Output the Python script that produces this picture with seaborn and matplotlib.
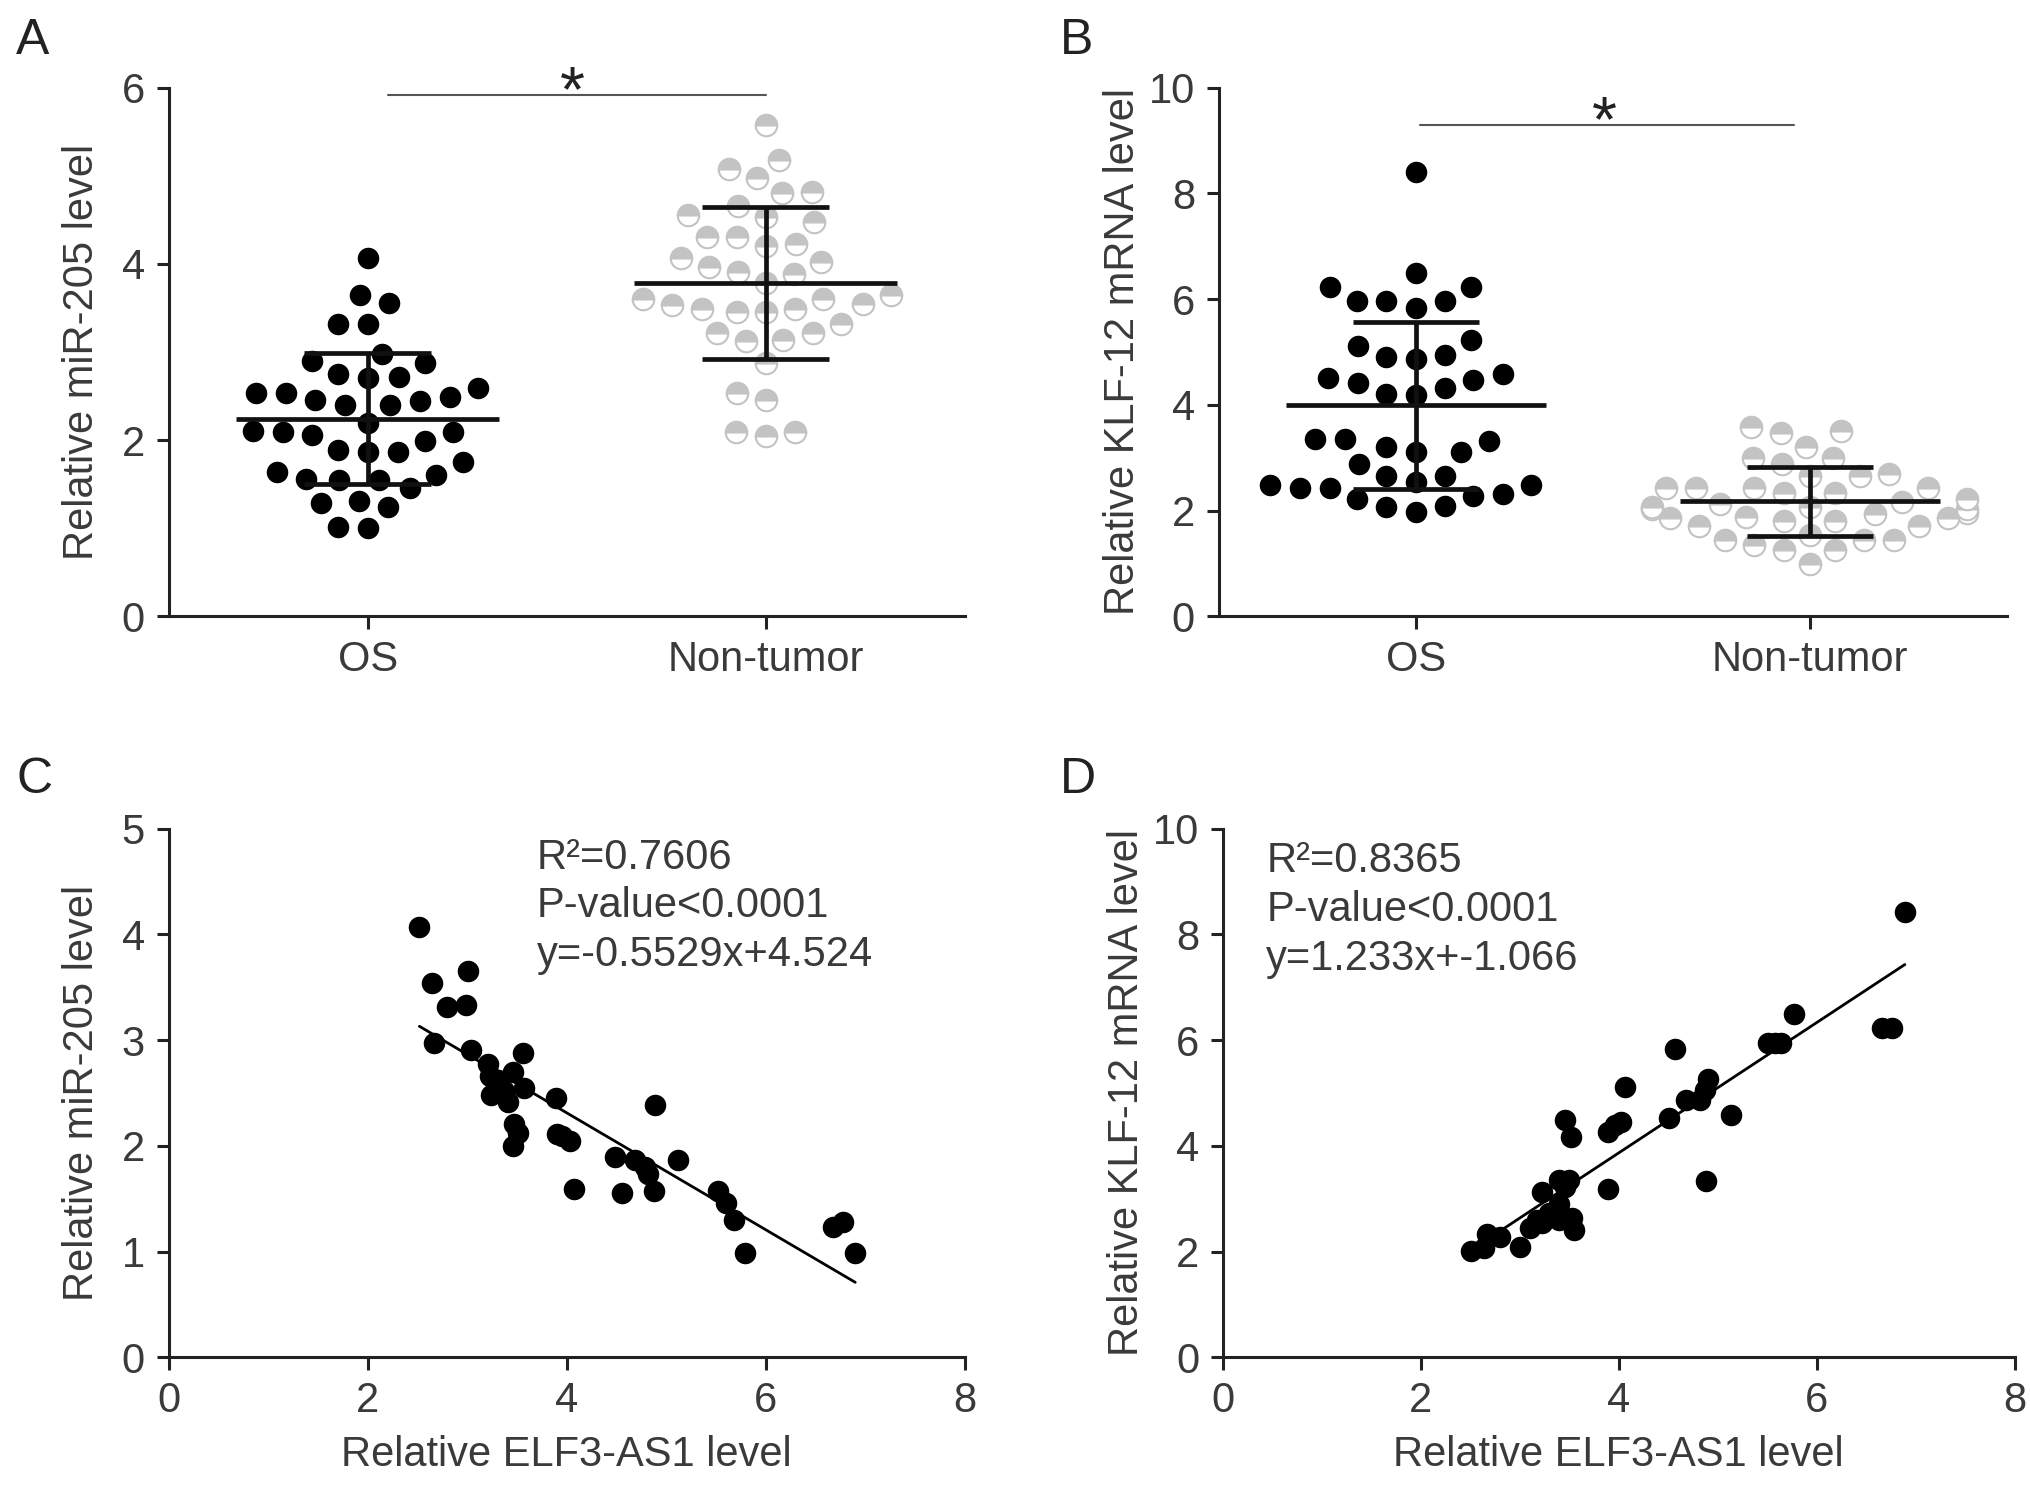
import numpy as np
import pandas as pd
import seaborn as sns
import matplotlib.pyplot as plt

# ---- data ----
groups = ['OS', 'Non-tumor']

mir205_os = [4.07, 3.65, 3.55, 3.32, 3.32, 2.90, 2.87, 2.98, 2.75, 2.71,
             2.70, 2.59, 2.53, 2.45, 2.40, 2.40, 2.44, 2.49, 2.53, 2.19,
             2.09, 2.06, 1.89, 1.86, 1.86, 1.99, 2.09, 2.10, 1.64, 1.55,
             1.56, 1.46, 1.55, 1.60, 1.75, 1.31, 1.24, 1.28, 1.00, 1.01]
mir205_nt = [5.58, 5.18, 5.08, 4.97, 4.82, 4.80, 4.66, 4.55, 4.53, 4.47,
             4.30, 4.22, 4.20, 4.30, 4.02, 4.07, 3.91, 3.78, 3.89, 3.96,
             3.65, 3.60, 3.53, 3.49, 3.45, 3.32, 3.45, 3.49, 3.54, 3.60,
             3.21, 3.14, 3.12, 3.21, 2.88, 2.53, 2.45, 2.09, 2.05, 2.09]

klf12_os = [8.41, 6.49, 6.22, 6.22, 5.96, 5.96, 5.84, 5.96, 5.23, 4.95,
            4.86, 4.91, 5.11, 4.50, 4.41, 4.21, 4.19, 4.31, 4.46, 4.58,
            3.20, 3.11, 3.35, 3.35, 3.32, 3.11, 2.88, 2.66, 2.66, 2.54,
            2.48, 2.43, 2.28, 2.07, 1.98, 2.09, 2.21, 2.32, 2.43, 2.48]
klf12_nt = [3.58, 3.47, 3.51, 3.20, 2.99, 2.99, 2.88, 2.66, 2.66, 2.70,
            2.43, 2.43, 2.34, 2.34, 2.43, 2.43, 2.07, 2.03, 1.95, 1.85,
            1.85, 1.80, 1.71, 1.71, 1.80, 1.87, 1.94, 2.03, 2.07, 2.21,
            1.44, 1.44, 1.26, 1.26, 1.35, 1.44, 1.53, 0.99, 2.16, 2.12]

elf3_c = [2.52, 2.65, 3.01, 2.80, 2.99, 2.67, 3.04, 3.21, 3.23, 3.24,
          3.37, 3.46, 3.56, 3.57, 3.41, 3.47, 3.51, 3.46, 3.89, 3.90,
          4.03, 4.07, 4.49, 4.56, 4.69, 4.82, 4.88, 4.89, 5.12, 5.52,
          5.60, 5.68, 5.79, 6.68, 6.78, 6.90, 3.31, 4.79, 3.95]
mir205_c = [4.07, 3.54, 3.65, 3.31, 3.33, 2.97, 2.91, 2.77, 2.66, 2.48,
            2.52, 2.70, 2.88, 2.55, 2.41, 2.21, 2.12, 2.00, 2.45, 2.11,
            2.05, 1.59, 1.89, 1.55, 1.87, 1.73, 1.57, 2.39, 1.87, 1.57,
            1.46, 1.30, 0.99, 1.23, 1.28, 0.99, 2.62, 1.80, 2.09]

elf3_d = [6.89, 5.77, 6.66, 6.76, 5.51, 5.64, 4.57, 4.06, 4.90, 4.68,
          4.82, 5.13, 4.51, 3.46, 3.52, 3.89, 3.96, 4.02, 4.88, 3.89,
          3.23, 3.40, 3.50, 3.40, 3.10, 3.23, 3.40, 3.53, 3.55, 2.51,
          2.64, 2.67, 2.80, 3.00, 3.17, 5.58, 4.87, 3.46, 3.30]
klf12_d = [8.42, 6.49, 6.22, 6.22, 5.94, 5.94, 5.83, 5.11, 5.26, 4.87,
           4.87, 4.58, 4.52, 4.49, 4.17, 4.27, 4.40, 4.45, 3.34, 3.18,
           3.13, 3.36, 3.36, 2.90, 2.45, 2.54, 2.59, 2.63, 2.40, 2.01,
           2.06, 2.33, 2.27, 2.09, 2.59, 5.94, 5.05, 3.22, 2.72]

fit_c = {'slope': -0.5529, 'intercept': 4.524, 'r2': '0.7606'}
fit_d = {'slope': 1.233, 'intercept': -1.066, 'r2': '0.8365'}

# ---- style ----
sns.set_style('ticks')
plt.rcParams['font.family'] = ['Liberation Sans', 'DejaVu Sans']
plt.rcParams['axes.linewidth'] = 2.2
plt.rcParams['xtick.major.width'] = 2.2
plt.rcParams['ytick.major.width'] = 2.2
plt.rcParams['xtick.major.size'] = 9
plt.rcParams['ytick.major.size'] = 9
plt.rcParams['xtick.color'] = '#222222'
plt.rcParams['ytick.color'] = '#222222'
plt.rcParams['xtick.labelcolor'] = '#3a3a3a'
plt.rcParams['ytick.labelcolor'] = '#3a3a3a'
plt.rcParams['axes.edgecolor'] = '#222222'

FS = 30
TXT = '#3a3a3a'
GREY = '#c3c3c3'
MS = 15.5

fig = plt.figure(figsize=(20.31, 14.85), dpi=100)
axA = fig.add_axes([0.083, 0.585, 0.392, 0.356])
axB = fig.add_axes([0.600, 0.585, 0.388, 0.356])
axC = fig.add_axes([0.083, 0.086, 0.392, 0.356])
axD = fig.add_axes([0.602, 0.086, 0.390, 0.356])


def dot_panel(ax, os_vals, nt_vals, ymax, ystep, ylabel, sig, labelpad):
    df = pd.DataFrame({'group': ['OS'] * len(os_vals) + ['Non-tumor'] * len(nt_vals),
                       'value': os_vals + nt_vals})
    # swarm layout with a slightly larger marker so the dots spread like the original
    sns.swarmplot(data=df, x='group', y='value', order=groups, hue='group',
                  hue_order=groups, palette=['black', GREY], size=20.5,
                  legend=False, ax=ax)
    ax.set_xlim(-0.5, 1.5)
    ax.set_ylim(0, ymax)
    ax.set_yticks(np.arange(0, ymax + 0.01, ystep))
    ax.set_xlabel('')
    ax.set_ylabel(ylabel, fontsize=FS, color=TXT, labelpad=labelpad)
    ax.tick_params(labelsize=FS, pad=8)
    sns.despine(ax=ax)

    # mean and SD bars
    for i, vals in enumerate([os_vals, nt_vals]):
        m, sd = np.mean(vals), np.std(vals, ddof=1)
        ax.hlines(m, i - 0.33, i + 0.33, color='#111111', lw=3.4, zorder=5)
        ax.hlines([m - sd, m + sd], i - 0.16, i + 0.16, color='#111111', lw=3.4, zorder=5)
        ax.vlines(i, m - sd, m + sd, color='#111111', lw=3.4, zorder=5)

    x0, x1, y, xs = sig
    ax.plot([x0, x1], [y, y], color='#555555', lw=1.5)
    ax.annotate('*', xy=(xs, y), xytext=(0, -12), textcoords='offset points',
                fontsize=46, ha='center', va='baseline', color='#222222')


def fit_panel(ax, x, y, fit, ymax, ystep, ylabel, text_x, text_y, labelpad):
    sns.scatterplot(x=x, y=y, color='black', s=MS ** 2, linewidth=0, ax=ax, zorder=3)
    lx = np.array([min(x), max(x)])
    sns.lineplot(x=lx, y=fit['slope'] * lx + fit['intercept'], color='black', lw=2, ax=ax)
    ax.set_xlim(0, 8)
    ax.set_ylim(0, ymax)
    ax.set_xticks([0, 2, 4, 6, 8])
    ax.set_yticks(np.arange(0, ymax + 0.01, ystep))
    ax.set_xlabel('Relative ELF3-AS1 level', fontsize=FS, color=TXT, labelpad=10)
    ax.set_ylabel(ylabel, fontsize=FS, color=TXT, labelpad=labelpad)
    ax.tick_params(labelsize=FS, pad=8)
    sns.despine(ax=ax)
    sign = '+' if fit['intercept'] >= 0 else '+-'
    lines = ['R\u00b2=' + fit['r2'], 'P-value<0.0001',
             'y={:.4g}x{}{:.4g}'.format(fit['slope'], sign, abs(fit['intercept']))]
    for k, s in enumerate(lines):
        ax.text(text_x, text_y - k * 0.092, s, transform=ax.transAxes,
                fontsize=FS, color=TXT, va='center', ha='left')


dot_panel(axA, mir205_os, mir205_nt, 6, 2, 'Relative miR-205 level',
          (0.05, 1.0, 5.92, 0.515), 14)
dot_panel(axB, klf12_os, klf12_nt, 10, 2, 'Relative KLF-12 mRNA level',
          (0.01, 0.96, 9.3, 0.48), 4)
fit_panel(axC, elf3_c, mir205_c, fit_c, 5, 1, 'Relative miR-205 level', 0.462, 0.945, 14)
fit_panel(axD, elf3_d, klf12_d, fit_d, 10, 2, 'Relative KLF-12 mRNA level', 0.055, 0.938, 4)

# freeze the swarm positions, then redraw the dots in the original style
fig.canvas.draw()
for ax in [axA, axB]:
    colls = list(ax.collections)
    swarm = [c for c in colls if len(c.get_offsets()) > 5][:2]
    for i, c in enumerate(swarm):
        xy = np.asarray(c.get_offsets())
        c.remove()
        if i == 0:
            ax.scatter(xy[:, 0], xy[:, 1], s=MS ** 2, color='black', linewidths=0, zorder=3)
        else:
            ax.plot(xy[:, 0], xy[:, 1], 'o', ms=MS, fillstyle='top',
                    markerfacecolor=GREY, markerfacecoloralt='white',
                    markeredgecolor=GREY, markeredgewidth=1.5, zorder=3)

for ax, lab, xy in [(axA, 'A', (0.008, 0.988)), (axB, 'B', (0.522, 0.988)),
                    (axC, 'C', (0.008, 0.49)), (axD, 'D', (0.522, 0.49))]:
    fig.text(xy[0], xy[1], lab, fontsize=36, color='#222222', ha='left', va='top')

fig.savefig('out.png', dpi=100)
